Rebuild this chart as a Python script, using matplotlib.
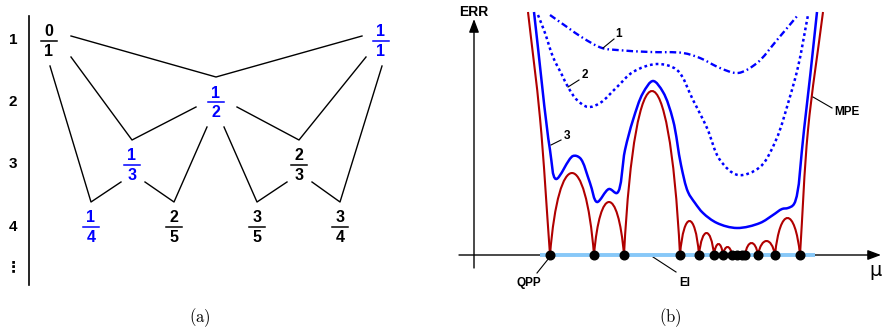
import numpy as np
import matplotlib
matplotlib.use("Agg")
import matplotlib.pyplot as plt
from matplotlib.path import Path
from matplotlib.patches import PathPatch

plt.rcParams["font.family"] = ["Liberation Sans", "DejaVu Sans"]
plt.rcParams["mathtext.fontset"] = "cm"

BLUE = "#0000ff"
RED = "#b00000"
LIGHT_BLUE = "#87c8f8"

# ---- (a) Farey tree ----
frac_num = [0, 1, 1, 1, 2, 1, 2, 3, 3]
frac_den = [1, 1, 2, 3, 3, 4, 5, 5, 4]
frac_x = [49, 381, 216, 132, 299, 91, 174, 257, 340]
frac_level = [1, 1, 2, 3, 3, 4, 4, 4, 4]
frac_blue = [False, True, True, True, False, True, False, False, False]
level_y = [41, 102, 165, 227]
level_labels = ["1", "2", "3", "4", "\u22ee"]
level_label_y = [40, 102, 164, 227, 267]

# child -> (left parent, dx, dy), (right parent, dx, dy)
tree_links = [
    (2, (0, 22, -5), (1, -19, -5)),
    (3, (0, 22, 16), (2, -20, 5)),
    (4, (2, 21, 5), (1, -15, 16)),
    (5, (0, 1, 25), (3, -11, 17)),
    (6, (3, 13, 17), (2, -9, 25)),
    (7, (2, 8, 25), (4, -12, 17)),
    (8, (4, 13, 17), (1, 1, 25)),
]

# ---- (b) error curves, heights above the mu axis ----
mpe_zeros = [550, 594, 624, 680, 699, 714, 723, 732, 737, 742, 745, 758, 775, 800]
mpe_peaks = [82, 53, 164, 34, 22, 11, 8, 3, 3, 2, 12, 14, 37]
mpe_left_x = [528, 540, 550]
mpe_left_h = [243, 137, 0]
mpe_right_x = [800, 808, 823]
mpe_right_h = [0, 125, 243]

err3_x = [534, 550, 556, 573, 580, 590, 597, 609, 617, 625, 633, 643, 653, 663,
          673, 681, 688, 695, 703, 717, 737, 760, 773, 782, 788, 794, 804, 817]
err3_h = [243, 105, 76, 99, 97, 72, 53, 66, 62, 105, 135, 162, 174, 163,
          135, 90, 63, 52, 42, 32, 27, 32, 40, 46, 47, 51, 125, 243]
err2_x = [538, 545, 553, 562, 568, 577, 588, 600, 617, 633, 657, 677, 693, 707,
          720, 738, 760, 776, 789, 798, 808]
err2_h = [240, 222, 198, 180, 168, 155, 148, 152, 168, 183, 191, 185, 155, 127,
          95, 80, 88, 115, 155, 188, 240]
err1_x = [550, 567, 583, 602, 617, 650, 683, 700, 720, 738, 757, 777, 798]
err1_h = [240, 228, 217, 207, 205, 203, 202, 197, 187, 182, 192, 215, 240]

BASE = 255  # position of the mu axis


def smooth_path(xs, ys, alpha=0.5):
    """Centripetal Catmull-Rom through the points, as a cubic Bezier path."""
    pts = np.column_stack([xs, ys]).astype(float)
    pts = np.vstack([2 * pts[0] - pts[1], pts, 2 * pts[-1] - pts[-2]])
    verts = [pts[1]]
    codes = [Path.MOVETO]
    for i in range(1, len(pts) - 2):
        p0, p1, p2, p3 = pts[i - 1], pts[i], pts[i + 1], pts[i + 2]
        d1 = np.linalg.norm(p1 - p0) ** alpha
        d2 = np.linalg.norm(p2 - p1) ** alpha
        d3 = np.linalg.norm(p3 - p2) ** alpha
        c1 = (d1**2 * p2 - d2**2 * p0 + (2 * d1**2 + 3 * d1 * d2 + d2**2) * p1) / (3 * d1 * (d1 + d2))
        c2 = (d3**2 * p1 - d2**2 * p3 + (2 * d3**2 + 3 * d3 * d2 + d2**2) * p2) / (3 * d3 * (d3 + d2))
        verts += [c1, c2, p2]
        codes += [Path.CURVE4] * 3
    return Path(verts, codes)


def arch_path(zeros, peaks):
    verts = [(zeros[0], BASE)]
    codes = [Path.MOVETO]
    for a, b, h in zip(zeros[:-1], zeros[1:], peaks):
        w = b - a
        top = BASE - 4 * h / 3
        verts += [(a + 0.2 * w, top), (b - 0.2 * w, top), (b, BASE)]
        codes += [Path.CURVE4] * 3
    return Path(verts, codes)


fig = plt.figure(figsize=(8.86, 3.33), dpi=100)
ax = fig.add_axes([0, 0, 1, 1])
ax.set_xlim(0, 886)
ax.set_ylim(333, 0)
ax.axis("off")

# (a)
ax.plot([29, 29], [16, 285], color="black", lw=1.2)
for lab, y in zip(level_labels, level_label_y):
    ax.text(13, y, lab, ha="center", va="center", fontsize=11, fontweight="bold")

for child, (lp, ldx, ldy), (rp, rdx, rdy) in tree_links:
    vx, vy = frac_x[child], level_y[frac_level[child] - 1] - 25
    lx, ly = frac_x[lp] + ldx, level_y[frac_level[lp] - 1] + ldy
    rx, ry = frac_x[rp] + rdx, level_y[frac_level[rp] - 1] + rdy
    ax.plot([lx, vx, rx], [ly, vy, ry], color="black", lw=1.0)

for n, d, x, lev, blue in zip(frac_num, frac_den, frac_x, frac_level, frac_blue):
    c = BLUE if blue else "black"
    y = level_y[lev - 1]
    ax.plot([x - 8, x + 8], [y, y], color=c, lw=1.1)
    ax.text(x, y - 9, str(n), ha="center", va="center", fontsize=11.5,
            fontweight="bold", color=c)
    ax.text(x, y + 10.5, str(d), ha="center", va="center", fontsize=11.5,
            fontweight="bold", color=c)

# (b) axes
arrow = dict(arrowstyle="-|>,head_length=0.8,head_width=0.3", lw=1.0,
             color="black", shrinkA=0, shrinkB=0)
ax.annotate("", xy=(474, 19), xytext=(474, 268), arrowprops=arrow)
ax.annotate("", xy=(881, BASE), xytext=(459, BASE), arrowprops=arrow)
ax.text(474, 12, "ERR", ha="center", va="center", fontsize=10, fontweight="bold")
ax.text(876, 270, "\u03bc", ha="center", va="center", fontsize=14,
        family="DejaVu Sans")

ax.plot([540, 815], [BASE, BASE], color=LIGHT_BLUE, lw=2.8,
        solid_capstyle="butt", zorder=4)

# error curves
ax.add_patch(PathPatch(smooth_path(err1_x, BASE - np.array(err1_h)), fill=False,
                       color=BLUE, lw=1.7, ls=(0, (2.8, 1.3, 0.7, 1.3)),
                       capstyle="butt"))
ax.add_patch(PathPatch(smooth_path(err2_x, BASE - np.array(err2_h)), fill=False,
                       color=BLUE, lw=1.8, ls=(0, (1.1, 1.2)), capstyle="butt"))
ax.add_patch(PathPatch(smooth_path(err3_x, BASE - np.array(err3_h)), fill=False,
                       color=BLUE, lw=1.8))

for bx, bh in ((mpe_left_x, mpe_left_h), (mpe_right_x, mpe_right_h)):
    ax.add_patch(PathPatch(smooth_path(bx, BASE - np.array(bh)), fill=False,
                           color=RED, lw=1.5))
ax.add_patch(PathPatch(arch_path(mpe_zeros, mpe_peaks), fill=False, color=RED,
                       lw=1.5, joinstyle="miter"))

ax.plot(mpe_zeros, [BASE] * len(mpe_zeros), "o", color="black", ms=6.2, zorder=5)

# labels with leader lines
leaders = [
    ("1", (603, 48), (614, 39), (619, 34)),
    ("2", (568, 87), (579, 80), (585, 75)),
    ("3", (551, 145), (561, 140), (567, 136)),
    ("MPE", (813, 97), (832, 108), (847, 112)),
    ("QPP", (549, 258), (537, 273), (529, 283)),
    ("EI", (653, 257), (676, 272), (685, 283)),
]
for lab, p0, p1, pt in leaders:
    ax.plot([p0[0], p1[0]], [p0[1], p1[1]], color="black", lw=0.8)
    ax.text(pt[0], pt[1], lab, ha="center", va="center", fontsize=8.5,
            fontweight="bold")

ax.text(200, 318, r"$\mathrm{(a)}$", ha="center", va="center", fontsize=12)
ax.text(670, 318, r"$\mathrm{(b)}$", ha="center", va="center", fontsize=12)

fig.savefig("out.png", dpi=100)
